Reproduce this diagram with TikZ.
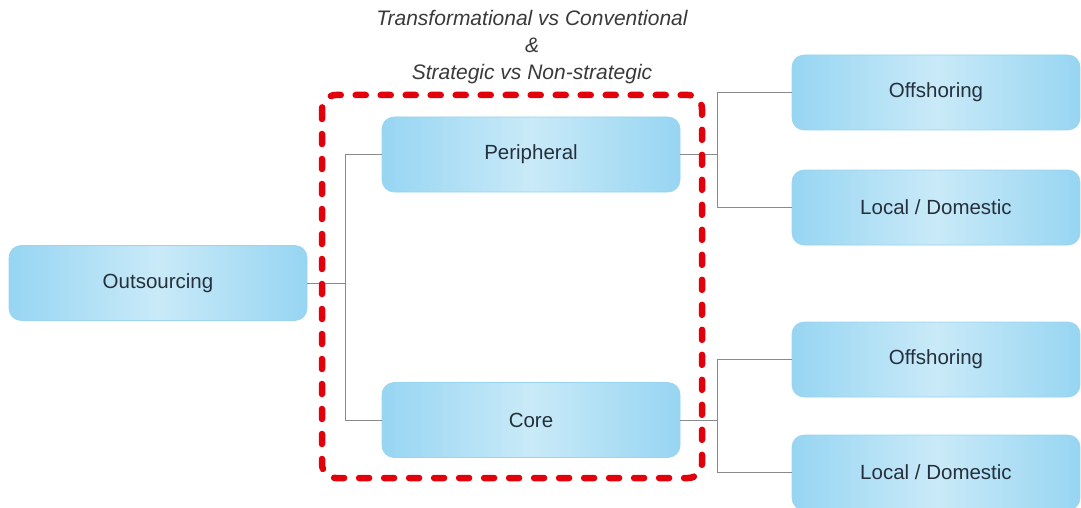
\documentclass[tikz,border=0pt]{standalone}
\usepackage{fontspec}
\setmainfont{Liberation Sans}
\definecolor{boxedge}{HTML}{97D5F2}
\definecolor{boxmid}{HTML}{C9EAF8}
\definecolor{labelink}{HTML}{25303C}
\definecolor{wire}{HTML}{8A8A8A}
\definecolor{groupred}{HTML}{E2000B}
\definecolor{titleink}{HTML}{3A3A3A}
\tikzset{
  box/.style={rectangle, rounded corners=12pt, minimum width=298pt, minimum height=75pt,
    left color=boxedge, right color=boxedge, middle color=boxmid,
    draw=boxedge, line width=0.6pt, text=labelink, font=\fontsize{20.5}{24}\selectfont, inner sep=0pt},
  wirestyle/.style={draw=wire, line width=1pt},
  groupbox/.style={draw=groupred, line width=6.5pt, line cap=round,
    dash pattern=on 10pt off 15pt, rounded corners=14pt},
  heading/.style={text=titleink, font=\fontsize{21}{27}\selectfont\itshape, align=center, inner sep=0pt}
}
\begin{document}
\begin{tikzpicture}[x=1pt, y=-1pt]
  \useasboundingbox (0,0) rectangle (1081,508);
  \clip (0,0) rectangle (1081,508);
  \fill[white] (0,0) rectangle (1081,508);

  % heading above the grouped categories
  \node[heading] (title) at (532,47) {Transformational vs Conventional\\\&\\Strategic vs Non-strategic};

  % boxes
  \node[box] (out) at (158,283) {Outsourcing};
  \node[box] (per) at (531,154.5) {Peripheral};
  \node[box] (core) at (531,420) {Core};
  \node[box, minimum width=288pt] (off1) at (936,92.5) {Offshoring};
  \node[box, minimum width=288pt] (loc1) at (936,207.5) {Local / Domestic};
  \node[box, minimum width=288pt] (off2) at (936,359.5) {Offshoring};
  \node[box, minimum width=288pt] (loc2) at (936,472.5) {Local / Domestic};

  % branch points
  \coordinate (j0) at (345,283);
  \coordinate (j1) at (717,154.5);
  \coordinate (j2) at (717,420);

  % connectors
  \draw[wirestyle] (out.east) -- (j0);
  \draw[wirestyle] (j0) |- (per.west);
  \draw[wirestyle] (j0) |- (core.west);
  \draw[wirestyle] (per.east) -- (j1);
  \draw[wirestyle] (j1) |- (off1.west);
  \draw[wirestyle] (j1) |- (loc1.west);
  \draw[wirestyle] (core.east) -- (j2);
  \draw[wirestyle] (j2) |- (off2.west);
  \draw[wirestyle] (j2) |- (loc2.west);

  % dashed grouping frame
  \draw[groupbox] (322,95) rectangle (702,478);
\end{tikzpicture}
\end{document}
